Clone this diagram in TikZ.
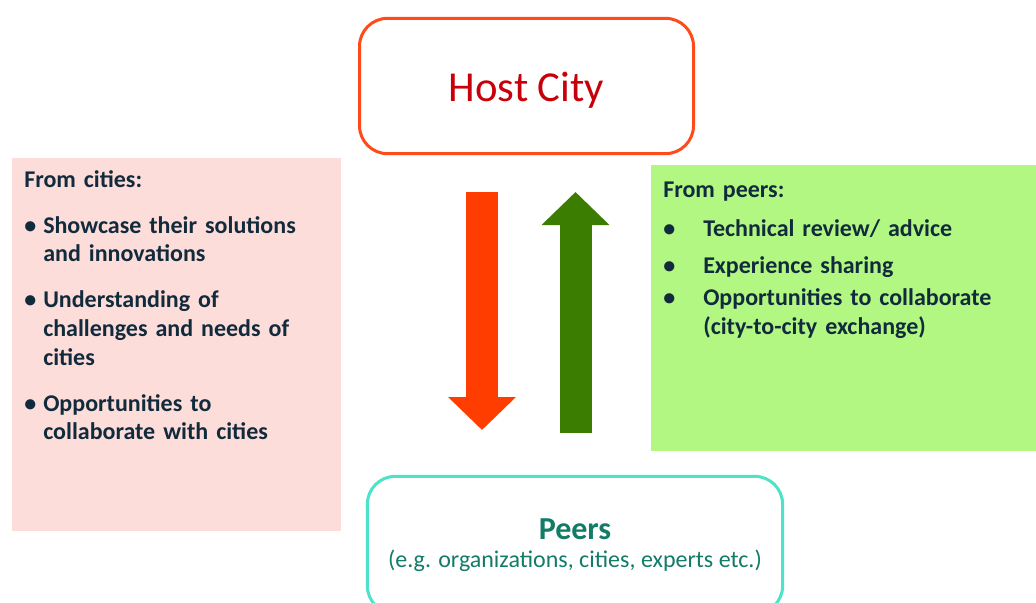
\documentclass[tikz,border=0pt]{standalone}
\usepackage{fontspec}
\setmainfont{Carlito}
\usepackage{tikz}
\tikzset{>=latex}
\usetikzlibrary{arrows.meta}
\usetikzlibrary{positioning}
\usetikzlibrary{calc}
\definecolor{hostline}{HTML}{FF4A1A}
\definecolor{hosttext}{HTML}{C8000A}
\definecolor{peerline}{HTML}{4CE3C8}
\definecolor{peertext}{HTML}{137C68}
\definecolor{cityfill}{HTML}{FDDDD9}
\definecolor{peerfill}{HTML}{B3F783}
\definecolor{bodytext}{HTML}{112B3C}
\definecolor{downred}{HTML}{FF3D00}
\definecolor{upgreen}{HTML}{3A7D00}
% bullet with hanging indent
\newcommand{\bitem}[3]{\par\vspace{#1}\hangindent=#2\hangafter=1\noindent\makebox[#2][l]{\textbullet}#3\par}

\begin{document}
\begin{tikzpicture}[x=0.75pt,y=-0.75pt,
    roundbox/.style={draw,rounded corners=21pt,line width=2.25pt,fill=white},
    flatbox/.style={inner sep=0pt},
    listtext/.style={inner sep=0pt,anchor=north west,align=left,text=bodytext,
      font=\bfseries\fontsize{18}{21.5}\selectfont},
    bigarrow/.style={line width=24pt,-{Triangle[width=49.5pt,length=24.75pt]}}
  ]
  \useasboundingbox (0,0) rectangle (1036,603);
  \clip (0,0) rectangle (1036,603);

  % side boxes
  \node[flatbox,fill=cityfill,minimum width=246.75pt,minimum height=279.75pt] (cities) at (176.5,344.5) {};
  \node[flatbox,fill=peerfill,minimum width=288.75pt,minimum height=214.5pt] (peerside) at (843.5,308) {};

  \node[listtext,text width=240pt] (citylist) at (24,170) {From cities:
    \bitem{13pt}{14.25pt}{Showcase their solutions\newline and innovations}
    \bitem{13pt}{14.25pt}{Understanding of\newline challenges and needs of\newline cities}
    \bitem{13pt}{14.25pt}{Opportunities to\newline collaborate with cities}};

  \node[listtext,text width=280pt] (peerlist) at (663,182) {From peers:
    \bitem{7.5pt}{30pt}{Technical review/ advice}
    \bitem{6.5pt}{30pt}{Experience sharing}
    \bitem{2.5pt}{30pt}{Opportunities to collaborate\newline (city-to-city exchange)}};

  % main boxes
  \node[roundbox,draw=hostline,text=hosttext,minimum width=250.5pt,minimum height=101.5pt,
    font=\fontsize{32}{38}\selectfont] (host) at (526.5,86) {\raisebox{-3pt}[\height][\depth]{Host City}};
  \node[roundbox,draw=peerline,text=peertext,minimum width=311.5pt,minimum height=103pt,
    align=center,font=\fontsize{18}{20}\selectfont] (peers) at (575,545)
    {\raisebox{-1pt}[\height][\depth]{\bfseries\fontsize{24}{26}\selectfont Peers}\\[2pt]
     (e.g. organizations, cities, experts etc.)};

  % arrows between the two boxes
  \coordinate (downtop) at (482,192);
  \coordinate (downtip) at (482,430);
  \coordinate (upbottom) at (575.5,433);
  \coordinate (uptip) at (575.5,192);
  \draw[bigarrow,downred] (downtop) -- (downtip);
  \draw[bigarrow,upgreen] (upbottom) -- (uptip);
\end{tikzpicture}
\end{document}
